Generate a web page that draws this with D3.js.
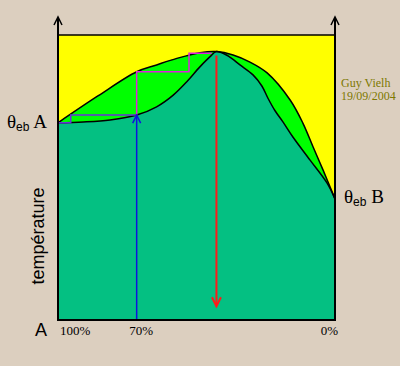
<!DOCTYPE html>
<html><head><meta charset="utf-8">
<script src="https://cdn.jsdelivr.net/npm/d3@7"></script>
<style>
html,body{margin:0;padding:0;background:#dccfbf;}
svg{display:block;}
</style></head>
<body>
<svg id="c" width="400" height="366"></svg>
<script>
// composition (% of A) and temperature (arbitrary units 0-100)
const vaporComp = [100, 85.6, 71.6, 64.4, 57.1, 48.7, 42.8, 36.8, 30.7, 24.5, 16.2, 11.6, 7.9, 4.3, 0];
const vaporTemp = [69.2, 78.6, 87.1, 89.5, 91.8, 93.8, 94.2, 93.0, 90.5, 86.7, 77.2, 69.1, 60.7, 52.6, 42.5];
const liquidComp = [100, 90.9, 81.2, 71.6, 64.4, 58.4, 53.5, 48.7, 45.1, 42.8, 38.5, 34.3, 29.6, 26.4, 24.2, 21.7, 18.8, 15.2, 9.0, 2.9, 0];
const liquidTemp = [69.2, 69.5, 70.2, 71.9, 74.8, 78.9, 83.6, 88.9, 92.4, 94.2, 92.6, 89.5, 86.0, 82.1, 77.8, 73.5, 69.5, 64.2, 56.1, 48.1, 42.5];
const stepLowComp = [100, 95.4, 95.4, 71.6];
const stepLowTemp = [69.2, 69.2, 71.9, 71.9];
const stepHighComp = [71.6, 71.6, 52.7, 52.7, 44.5];
const stepHighTemp = [71.9, 87.1, 87.1, 93.6, 93.6];
const feedComp = 71.6, feedTemp = [0, 71.9];
const azeoComp = 42.8, azeoTemp = [92.8, 4.8];
const tickValues = [100, 70, 0];
const tickLabels = ["100%", "70%", "0%"];
const tempA = 69.2, tempB = 42.5;

const svg = d3.select("#c");
const x = d3.scaleLinear().domain([100, 0]).range([58, 335]);
const y = d3.scaleLinear().domain([0, 100]).range([320, 35]);

const vapor = vaporComp.map((c, i) => [c, vaporTemp[i]]);
const liquid = liquidComp.map((c, i) => [c, liquidTemp[i]]);

// box
svg.append("rect").attr("x", x(100)).attr("y", y(100)).attr("width", x(0) - x(100)).attr("height", y(0) - y(100)).attr("fill", "#ffff00");

const cv = d3.curveCatmullRom.alpha(0.5);
const area = d3.area().x(d => x(d[0])).y0(y(0)).y1(d => y(d[1])).curve(cv);
const line = d3.line().x(d => x(d[0])).y(d => y(d[1])).curve(cv);
svg.append("path").datum(vapor).attr("d", area).attr("fill", "#00ff00");
svg.append("path").datum(liquid).attr("d", area).attr("fill", "#04c082");
svg.append("path").datum(vapor).attr("d", line).attr("fill", "none").attr("stroke", "#000").attr("stroke-width", 1.5);
svg.append("path").datum(liquid).attr("d", line).attr("fill", "none").attr("stroke", "#000").attr("stroke-width", 1.5);

// staircase
const lin = d3.line().x(d => x(d[0])).y(d => y(d[1]));
svg.append("path").datum(stepHighComp.map((c, i) => [c, stepHighTemp[i]])).attr("d", lin)
  .attr("fill", "none").attr("stroke", "#e020e0").attr("stroke-width", 1.5);
svg.append("path").datum(stepLowComp.map((c, i) => [c, stepLowTemp[i]])).attr("d", lin)
  .attr("fill", "none").attr("stroke", "#6a30d8").attr("stroke-width", 1.5);

// feed arrow (blue)
const fx = x(feedComp);
svg.append("line").attr("x1", fx).attr("x2", fx).attr("y1", y(feedTemp[0])).attr("y2", y(feedTemp[1]))
  .attr("stroke", "#1010e0").attr("stroke-width", 1.5);
svg.append("path").attr("d", `M${fx-4},${y(feedTemp[1])+8}L${fx},${y(feedTemp[1])}L${fx+4},${y(feedTemp[1])+8}`)
  .attr("fill", "none").attr("stroke", "#1010e0").attr("stroke-width", 1.5);

// azeotrope arrow (red)
const ax = x(azeoComp);
svg.append("line").attr("x1", ax).attr("x2", ax).attr("y1", y(azeoTemp[0])).attr("y2", y(azeoTemp[1]))
  .attr("stroke", "#ff1a1a").attr("stroke-width", 2);
svg.append("path").attr("d", `M${ax-4.5},${y(azeoTemp[1])-9}L${ax},${y(azeoTemp[1])}L${ax+4.5},${y(azeoTemp[1])-9}`)
  .attr("fill", "none").attr("stroke", "#ff1a1a").attr("stroke-width", 2);

// frame
svg.append("line").attr("x1", x(100)).attr("x2", x(0)).attr("y1", y(100)).attr("y2", y(100)).attr("stroke", "#000").attr("stroke-width", 1.5);
svg.append("line").attr("x1", x(100) - 1).attr("x2", x(0) + 1).attr("y1", y(0)).attr("y2", y(0)).attr("stroke", "#000").attr("stroke-width", 2);
[100, 0].forEach(c => {
  const xx = x(c);
  svg.append("line").attr("x1", xx).attr("x2", xx).attr("y1", y(0) + 1).attr("y2", 18).attr("stroke", "#000").attr("stroke-width", 2);
  svg.append("path").attr("d", `M${xx-4},${25}L${xx},${17}L${xx+4},${25}`).attr("fill", "none").attr("stroke", "#000").attr("stroke-width", 1.5);
});

// tick labels
const anchors = ["start", "middle", "end"];
const offs = [2, 0, 3];
tickValues.forEach((v, i) => {
  svg.append("text").attr("x", x(v) + offs[i]).attr("y", 335).attr("text-anchor", anchors[i])
    .attr("font-family", "Liberation Serif").attr("font-size", 13).text(tickLabels[i]);
});

// theta labels
function theta(xp, yp, letter) {
  const t = svg.append("text").attr("x", xp).attr("y", yp).attr("font-family", "Liberation Serif").attr("font-size", 19).attr("fill", "#000");
  t.append("tspan").text("θ");
  t.append("tspan").attr("font-family", "Liberation Sans").attr("font-size", 12).attr("dy", 3).text("eb");
  t.append("tspan").attr("dy", -3).text(" " + letter);
}
theta(7, y(tempA) + 5, "A");
theta(344, y(tempB) + 4, "B");

svg.append("text").attr("transform", "translate(44,236) rotate(-90)").attr("text-anchor", "middle")
  .attr("font-family", "Liberation Sans").attr("font-size", 18).text("température");
svg.append("text").attr("x", 35).attr("y", 336).attr("font-family", "Liberation Sans").attr("font-size", 18).text("A");

svg.append("text").attr("x", 341).attr("y", 87).attr("font-family", "Liberation Serif").attr("font-size", 12).attr("fill", "#7d7800").text("Guy Vielh");
svg.append("text").attr("x", 341).attr("y", 100).attr("font-family", "Liberation Serif").attr("font-size", 12).attr("fill", "#7d7800").text("19/09/2004");
</script>
</body></html>
